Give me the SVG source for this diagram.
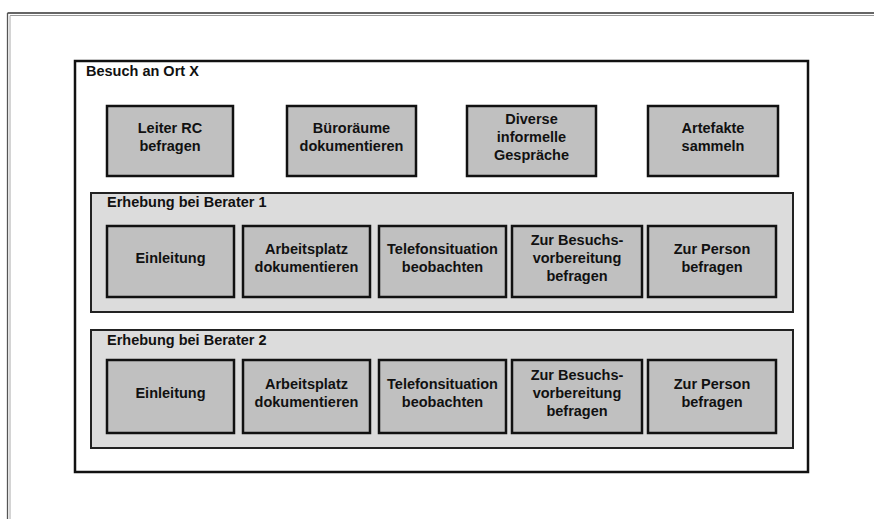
<svg xmlns="http://www.w3.org/2000/svg" width="874" height="519" viewBox="0 0 874 519">
  <style>
    text { font-family: "Liberation Sans", Arial, sans-serif; font-weight: bold; fill: #111; }
    .lbl { font-size: 14.5px; text-anchor: middle; }
    .ttl { font-size: 14.5px; }
    .task { fill: #c0c0c0; stroke: #111; stroke-width: 2.5; }
    .panel { fill: #dcdcdc; stroke: #222; stroke-width: 2; }
    .frame { fill: #ffffff; stroke: #111; stroke-width: 2.5; }
  </style>

  <!-- page border (top and left double rule) -->
  <g id="page-border" fill="none">
    <line x1="7.5" y1="13" x2="874" y2="13" stroke="#333" stroke-width="1.3"/>
    <line x1="10" y1="15.5" x2="874" y2="15.5" stroke="#999" stroke-width="1"/>
    <line x1="7.5" y1="13" x2="7.5" y2="519" stroke="#555" stroke-width="1.3"/>
    <line x1="10" y1="15.5" x2="10" y2="519" stroke="#aaa" stroke-width="1"/>
  </g>

  <!-- outer frame -->
  <g id="besuch">
    <rect class="frame" x="75" y="61" width="733" height="411"/>
    <text class="ttl" x="86" y="76">Besuch an Ort X</text>
  </g>

  <!-- top row activities -->
  <g id="leiter-rc">
    <rect class="task" x="107" y="106" width="126" height="70"/>
    <text class="lbl" x="170" y="133">Leiter RC</text>
    <text class="lbl" x="170" y="151">befragen</text>
  </g>
  <g id="bueroraeume">
    <rect class="task" x="287" y="106" width="129" height="70"/>
    <text class="lbl" x="351.5" y="133">Büroräume</text>
    <text class="lbl" x="351.5" y="151">dokumentieren</text>
  </g>
  <g id="gespraeche">
    <rect class="task" x="467" y="106" width="129" height="70"/>
    <text class="lbl" x="531.5" y="124">Diverse</text>
    <text class="lbl" x="531.5" y="142">informelle</text>
    <text class="lbl" x="531.5" y="160">Gespräche</text>
  </g>
  <g id="artefakte">
    <rect class="task" x="648" y="106" width="130" height="70"/>
    <text class="lbl" x="713" y="133">Artefakte</text>
    <text class="lbl" x="713" y="151">sammeln</text>
  </g>

  <!-- Berater 1 -->
  <g id="berater1">
    <rect class="panel" x="91" y="193" width="702" height="119"/>
    <text class="ttl" x="107" y="207">Erhebung bei Berater 1</text>
  </g>
  <g id="b1-einleitung">
    <rect class="task" x="107" y="226" width="127" height="71"/>
    <text class="lbl" x="170.5" y="263">Einleitung</text>
  </g>
  <g id="b1-arbeitsplatz">
    <rect class="task" x="243" y="226" width="127" height="71"/>
    <text class="lbl" x="306.5" y="254">Arbeitsplatz</text>
    <text class="lbl" x="306.5" y="272">dokumentieren</text>
  </g>
  <g id="b1-telefon">
    <rect class="task" x="379" y="226" width="127" height="71"/>
    <text class="lbl" x="442.5" y="254">Telefonsituation</text>
    <text class="lbl" x="442.5" y="272">beobachten</text>
  </g>
  <g id="b1-vorbereitung">
    <rect class="task" x="512" y="226" width="130" height="71"/>
    <text class="lbl" x="577" y="245">Zur Besuchs-</text>
    <text class="lbl" x="577" y="263">vorbereitung</text>
    <text class="lbl" x="577" y="281">befragen</text>
  </g>
  <g id="b1-person">
    <rect class="task" x="648" y="226" width="128" height="71"/>
    <text class="lbl" x="712" y="254">Zur Person</text>
    <text class="lbl" x="712" y="272">befragen</text>
  </g>

  <!-- Berater 2 -->
  <g id="berater2">
    <rect class="panel" x="91" y="330" width="702" height="118"/>
    <text class="ttl" x="107" y="345">Erhebung bei Berater 2</text>
  </g>
  <g id="b2-einleitung">
    <rect class="task" x="107" y="360" width="127" height="73"/>
    <text class="lbl" x="170.5" y="398">Einleitung</text>
  </g>
  <g id="b2-arbeitsplatz">
    <rect class="task" x="243" y="360" width="127" height="73"/>
    <text class="lbl" x="306.5" y="389">Arbeitsplatz</text>
    <text class="lbl" x="306.5" y="407">dokumentieren</text>
  </g>
  <g id="b2-telefon">
    <rect class="task" x="379" y="360" width="127" height="73"/>
    <text class="lbl" x="442.5" y="389">Telefonsituation</text>
    <text class="lbl" x="442.5" y="407">beobachten</text>
  </g>
  <g id="b2-vorbereitung">
    <rect class="task" x="512" y="360" width="130" height="73"/>
    <text class="lbl" x="577" y="380">Zur Besuchs-</text>
    <text class="lbl" x="577" y="398">vorbereitung</text>
    <text class="lbl" x="577" y="416">befragen</text>
  </g>
  <g id="b2-person">
    <rect class="task" x="648" y="360" width="128" height="73"/>
    <text class="lbl" x="712" y="389">Zur Person</text>
    <text class="lbl" x="712" y="407">befragen</text>
  </g>

  <!-- no connectors in this diagram -->
  <g id="connectors"/>
</svg>
